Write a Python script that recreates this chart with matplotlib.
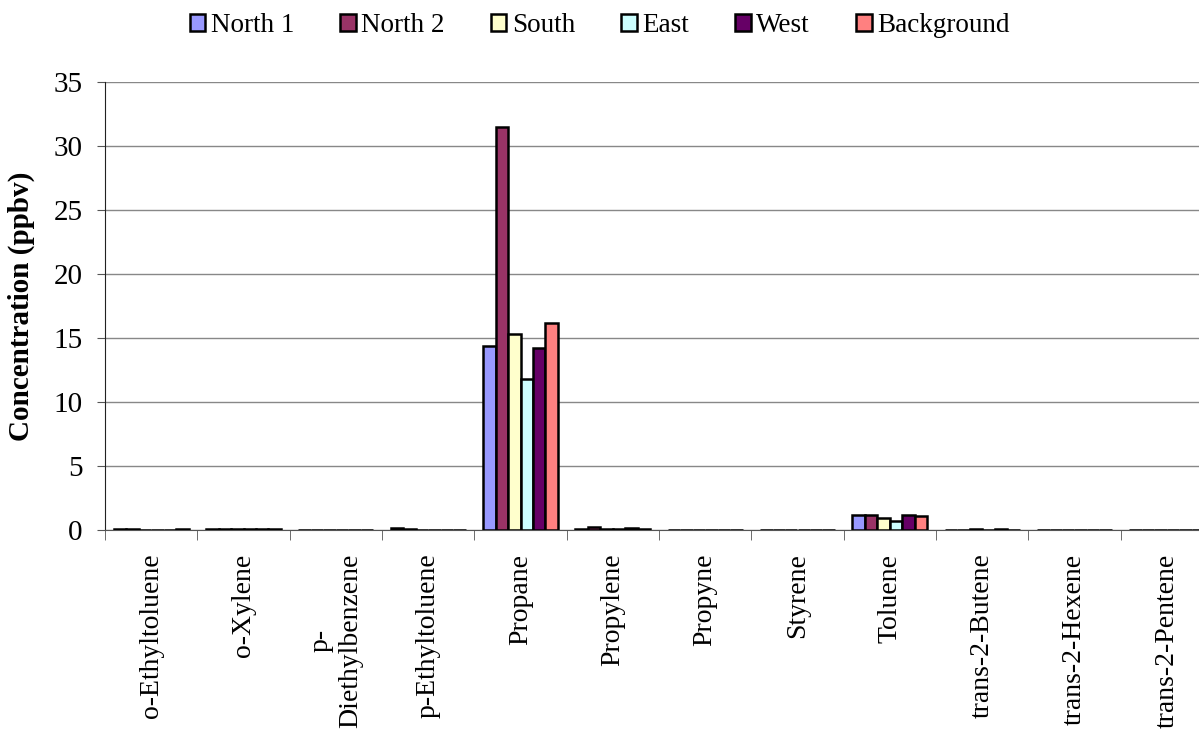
import matplotlib.pyplot as plt
import numpy as np

plt.rcParams['font.family'] = ['Liberation Serif', 'DejaVu Serif']

compounds = ['o-Ethyltoluene', 'o-Xylene', 'p-\nDiethylbenzene', 'p-Ethyltoluene',
             'Propane', 'Propylene', 'Propyne', 'Styrene', 'Toluene',
             'trans-2-Butene', 'trans-2-Hexene', 'trans-2-Pentene']
series = ['North 1', 'North 2', 'South', 'East', 'West', 'Background']
colors = ['#9999FF', '#993366', '#FFFFCC', '#CCFFFF', '#660066', '#FF8080']

north1 = [0.06, 0.09, 0.02, 0.12, 14.4, 0.08, 0.02, 0.02, 1.17, 0.03, 0.02, 0.02]
north2 = [0.05, 0.08, 0.02, 0.04, 31.5, 0.25, 0.02, 0.02, 1.17, 0.03, 0.02, 0.02]
south = [0.03, 0.05, 0.02, 0.03, 15.3, 0.08, 0.02, 0.02, 0.94, 0.05, 0.02, 0.02]
east = [0.03, 0.05, 0.02, 0.03, 11.8, 0.09, 0.02, 0.02, 0.68, 0.03, 0.02, 0.02]
west = [0.03, 0.09, 0.02, 0.03, 14.2, 0.12, 0.02, 0.02, 1.17, 0.05, 0.02, 0.02]
background = [0.04, 0.10, 0.02, 0.03, 16.2, 0.10, 0.02, 0.02, 1.12, 0.03, 0.02, 0.02]
values = [north1, north2, south, east, west, background]

fig = plt.figure(figsize=(11.99, 7.29), dpi=100)
ax = fig.add_axes([105 / 1199, 1 - 530 / 729, 1108 / 1199, 448 / 729])

x = np.arange(len(compounds))
w = 0.135
for i, (name, vals) in enumerate(zip(series, values)):
    ax.bar(x + (i - 2.5) * w, vals, w, color=colors[i], edgecolor='black',
           linewidth=1.8, label=name, zorder=3)

ax.set_xlim(-0.5, len(compounds) - 0.5)
ax.set_ylim(0, 35)
ax.set_yticks(np.arange(0, 36, 5))
ax.yaxis.grid(True, color='#888888', linewidth=1, zorder=0)
ax.set_xticks(x)
ax.set_xticklabels(compounds, rotation=90, fontsize=20)
ax.tick_params(axis='x', length=0, pad=17)
ax.set_xticks(np.arange(-0.5, len(compounds), 1), minor=True)
ax.tick_params(axis='x', which='minor', length=7, color='#555555')
ax.tick_params(axis='y', labelsize=21, length=6, pad=10, color='#555555')
for s in ['top', 'right']:
    ax.spines[s].set_visible(False)
ax.spines['left'].set_color('#222222')
ax.spines['bottom'].set_color('#555555')
ax.set_ylabel('Concentration (ppbv)', fontsize=21, fontweight='bold', labelpad=13)

fig.legend(loc='upper center', bbox_to_anchor=(0.5, 1.015), ncol=6, frameon=False,
           fontsize=19.5, handlelength=0.58, handleheight=0.58, handletextpad=0.2,
           columnspacing=1.7)

fig.savefig('out.png', dpi=100)
